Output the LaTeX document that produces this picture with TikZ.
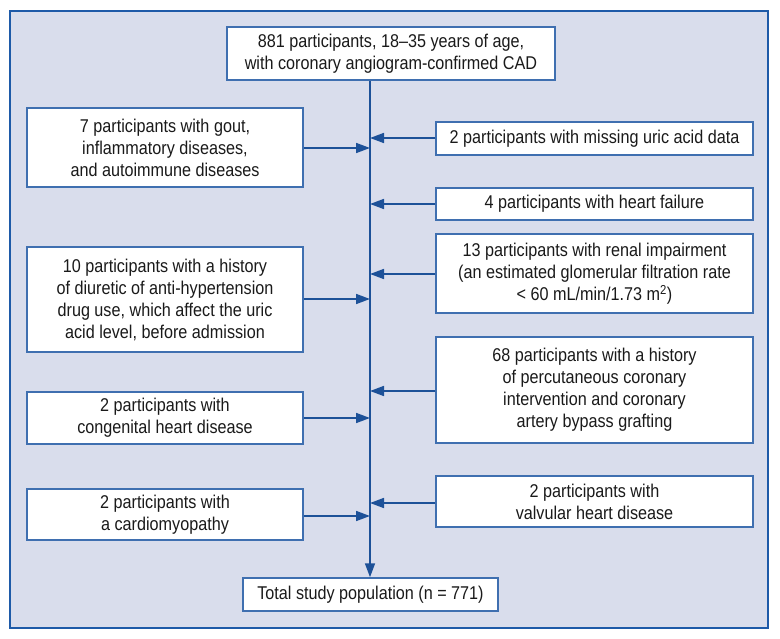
\documentclass[tikz,border=0pt]{standalone}
\usepackage{fontspec}
\setmainfont{Liberation Sans}[FakeStretch=0.875]
\usetikzlibrary{arrows.meta}
\definecolor{bgc}{HTML}{D9DDEC}
\definecolor{framec}{HTML}{1E5AA8}
\definecolor{boxc}{HTML}{3F6FB0}
\definecolor{arrc}{HTML}{1D5198}
\definecolor{txtc}{HTML}{1A1A1A}
\tikzset{
  fbox/.style={draw=boxc, line width=1.5pt, fill=white, align=center, inner sep=0pt,
    font=\fontsize{18.5}{22}\selectfont, text=txtc},
  lbox/.style={fbox, minimum width=276pt},
  rbox/.style={fbox, minimum width=317pt},
  arr/.style={draw=arrc, line width=1.6pt, -{Triangle[length=14pt,width=10pt]}}
}
\begin{document}
\begin{tikzpicture}[x=1pt,y=-1pt]
\useasboundingbox (0,0) rectangle (780,639);
\fill[white] (0,0) rectangle (780,639);
\draw[framec, line width=2pt, fill=bgc] (10,11) rectangle (768,628);
\coordinate (spine) at (370,0);
\node[fbox, minimum width=328pt, minimum height=53pt] (top) at (391,53.5)
  {881 participants, 18–35 years of age,\\with coronary angiogram-confirmed CAD};
\node[fbox, minimum width=255pt, minimum height=33pt] (total) at (370.5,594.5)
  {Total study population (n = 771)};
\node[lbox, minimum height=79pt] (L1) at (165,147.5)
  {7 participants with gout,\\inflammatory diseases,\\and autoimmune diseases};
\node[lbox, minimum height=105pt] (L2) at (165,299.5)
  {10 participants with a history\\of diuretic of anti-hypertension\\drug use, which affect the uric\\acid level, before admission};
\node[lbox, minimum height=52pt] (L3) at (165,418)
  {2 participants with\\congenital heart disease};
\node[lbox, minimum height=51pt] (L4) at (165,514.5)
  {2 participants with\\a cardiomyopathy};
\node[rbox, minimum height=33pt] (R1) at (594.5,138.5)
  {2 participants with missing uric acid data};
\node[rbox, minimum height=32pt] (R2) at (594.5,204)
  {4 participants with heart failure};
\node[rbox, minimum height=79pt] (R3) at (594.5,273.5)
  {13 participants with renal impairment\\(an estimated glomerular filtration rate\\< 60 mL/min/1.73 m\textsuperscript{2})};
\node[rbox, minimum height=106pt] (R4) at (594.5,390)
  {68 participants with a history\\of percutaneous coronary\\intervention and coronary\\artery bypass grafting};
\node[rbox, minimum height=51pt] (R5) at (594.5,501.5)
  {2 participants with\\valvular heart disease};
\draw[arr] (top.south -| spine) -- (total.north -| spine);
\draw[arr] ([yshift=-0.5pt]L1.east) -- ([yshift=-0.5pt]L1.east -| spine);
\draw[arr] ([yshift=0.5pt]L2.east) -- ([yshift=0.5pt]L2.east -| spine);
\draw[arr] (L3.east) -- (L3.east -| spine);
\draw[arr] ([yshift=-1.5pt]L4.east) -- ([yshift=-1.5pt]L4.east -| spine);
\draw[arr] ([yshift=0.5pt]R1.west) -- ([yshift=0.5pt]R1.west -| spine);
\draw[arr] (R2.west) -- (R2.west -| spine);
\draw[arr] ([yshift=-0.5pt]R3.west) -- ([yshift=-0.5pt]R3.west -| spine);
\draw[arr] ([yshift=-1pt]R4.west) -- ([yshift=-1pt]R4.west -| spine);
\draw[arr] ([yshift=-1.5pt]R5.west) -- ([yshift=-1.5pt]R5.west -| spine);
\end{tikzpicture}
\end{document}
